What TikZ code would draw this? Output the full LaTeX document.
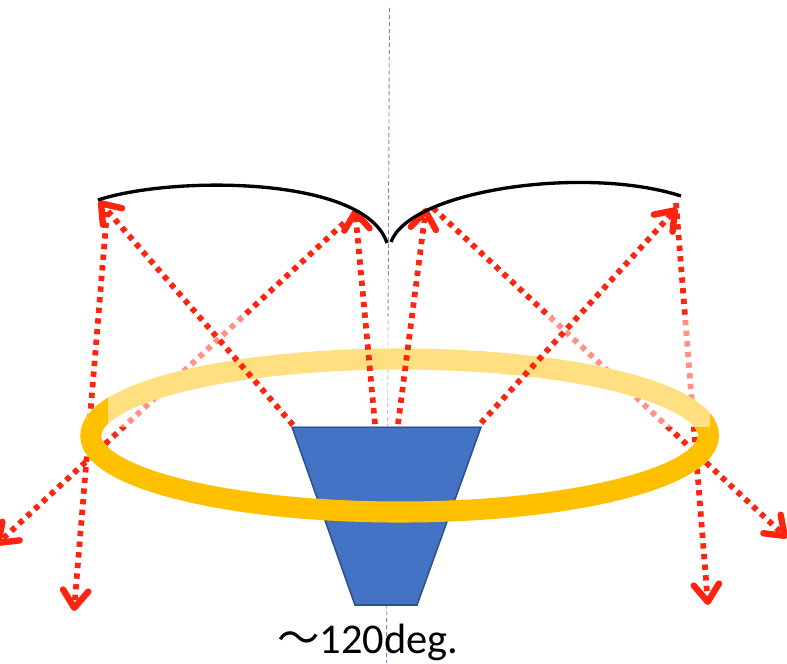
\documentclass[tikz,border=0pt]{standalone}
\usepackage{fontspec}
\setmainfont{Carlito}
\newfontfamily\cjkfont{Noto Sans CJK JP}
\usetikzlibrary{arrows.meta, positioning}
\definecolor{ray_red}{HTML}{FF2410}
\definecolor{ring_gold}{HTML}{FFC000}
\definecolor{horn_blue}{HTML}{4472C4}
\definecolor{horn_edge}{HTML}{2F528F}
\tikzset{
    ray/.style={ray_red, line width=4.3pt, dash pattern=on 4pt off 4pt, -{Straight Barb[length=13pt, width=19pt, line width=4.8pt, round]}},
    mirror/.style={black, line width=2.5pt},
    axis_line/.style={horn_blue!80, line width=0.7pt, dash pattern=on 3.2pt off 2pt}
}
\begin{document}
\begin{tikzpicture}[x=0.75pt, y=-0.75pt]
    \useasboundingbox (0,0) rectangle (787,663);
    \clip (0,0) rectangle (787,663);

    % Ends of the rays
    \coordinate (horn_a) at (293,425);
    \coordinate (horn_b) at (375,424);
    \coordinate (horn_c) at (398,424);
    \coordinate (horn_d) at (481,423);
    \coordinate (spot_a) at (99,201);
    \coordinate (spot_b) at (355,209);
    \coordinate (spot_c) at (426,208);
    \coordinate (spot_d) at (677,208);
    \coordinate (from_a) at (107,212);
    \coordinate (from_b) at (344,223);
    \coordinate (from_c) at (433,208);
    \coordinate (from_d) at (676,203);
    \coordinate (out_a) at (74,611);
    \coordinate (out_b) at (-4,545);
    \coordinate (out_c) at (787,538);
    \coordinate (out_d) at (708,605);
    \coordinate (axis_top) at (389.5,8);
    \coordinate (axis_end) at (386.5,663);

    \draw [axis_line] (axis_top) -- (axis_end);
    \draw [horn_edge, line width=1.2pt, fill=horn_blue] (292,427) -- (481,427) -- (417,605) -- (355,605) -- cycle;

    % Reflected rays, behind the ring
    \draw [ray] (from_a) -- (out_a);
    \draw [ray] (from_b) -- (out_b);
    \draw [ray] (from_c) -- (out_c);
    \draw [ray] (from_d) -- (out_d);

    \draw [ring_gold, line width=15.8pt] (399.6,435.5) ellipse [x radius=308.8, y radius=76.5];
    \fill [white, opacity=0.5] (108,316) rectangle (710,427);

    % Rays from the horn
    \draw [ray] (horn_a) -- (spot_a);
    \draw [ray] (horn_b) -- (spot_b);
    \draw [ray] (horn_c) -- (spot_c);
    \draw [ray] (horn_d) -- (spot_d);

    % Mirrors
    \draw [mirror] (98,200) .. controls (170,176) and (365,175) .. (387,243);
    \draw [mirror] (391,242) .. controls (410,190) and (585,165) .. (681,196);

    \node (angle_label) [anchor=base west, inner sep=0pt, font=\fontsize{31.8}{36}\selectfont] at (277,653) {{\cjkfont ～}120deg.};
\end{tikzpicture}
\end{document}
